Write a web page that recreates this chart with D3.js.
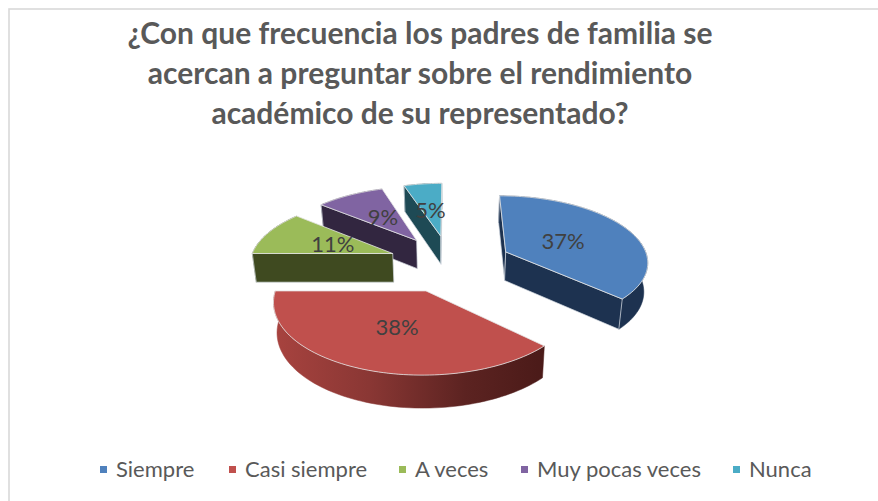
<!DOCTYPE html>
<meta charset="utf-8">
<style>
html, body { margin: 0; padding: 0; background: #fff; }
svg { display: block; }
text { font-family: Lato, sans-serif; }
</style>
<svg id="chart" width="878" height="501"></svg>
<script src="https://d3js.org/d3.v7.min.js"></script>
<script>
var categories = ["Siempre", "Casi siempre", "A veces", "Muy pocas veces", "Nunca"];
var percents = [37, 38, 11, 9, 5];
var titleLines = [
  "¿Con que frecuencia los padres de familia se",
  "acercan a preguntar sobre el rendimiento",
  "académico de su representado?"
];
var topColors = ["#4f81bd", "#c0504d", "#9bbb59", "#8064a2", "#4bacc6"];
var sideColors = ["#1d3250", "#7a2f2c", "#3f4a20", "#322640", "#1e4a55"];
var legendX = [100, 229, 399, 521, 733];
var labelShiftX = [-16, 9, 16, 8, 1];
var labelShiftY = [4, -8, 3, 5, 7];

var svg = d3.select("#chart"),
    width = 878,
    height = 501;

// pseudo 3d: the pie lies on a plane and gets a simple perspective
var cx = 450, cy = 263, R = 143, tilt = 0.46, persp = 0.126, depth = 29, explode = 62;

function project(X, Y, low) {
  var s = 1 / (1 + persp * Y / R),
      zs = low ? 0.98 : 1;
  return [cx + X * s * zs, cy - tilt * Y * s * zs + (low ? depth * s : 0)];
}

var slices = d3.pie().sort(null).value(function(d) { return d; })(percents);
slices.forEach(function(d, i) {
  var mid = (d.startAngle + d.endAngle) / 2;
  d.i = i;
  d.mid = mid;
  d.ox = explode * Math.sin(mid);
  d.oy = explode * Math.cos(mid);
});

function rim(d, a, low) {
  return project(d.ox + R * Math.sin(a), d.oy + R * Math.cos(a), low);
}

function rimPoints(d, low) {
  var n = Math.ceil((d.endAngle - d.startAngle) / 0.03);
  return d3.range(n + 1).map(function(k) {
    return rim(d, d.startAngle + (d.endAngle - d.startAngle) * k / n, low);
  });
}

var line = d3.line();
function closed(poly) { return line(poly) + "Z"; }

svg.append("rect").attr("width", width).attr("height", height).attr("fill", "#fff");
svg.append("rect")
  .attr("x", 9).attr("y", 9).attr("width", 920).attr("height", 540)
  .attr("fill", "none").attr("stroke", "#d9d9d9").attr("stroke-width", 1.6);

var grad = svg.append("defs").append("linearGradient")
  .attr("id", "redSide").attr("gradientUnits", "userSpaceOnUse")
  .attr("x1", 273).attr("x2", 547).attr("y1", 0).attr("y2", 0);
grad.append("stop").attr("offset", "0%").attr("stop-color", "#a8433f");
grad.append("stop").attr("offset", "35%").attr("stop-color", "#8a3734");
grad.append("stop").attr("offset", "70%").attr("stop-color", "#5c2321");
grad.append("stop").attr("offset", "100%").attr("stop-color", "#4a1a18");

// back to front
var order = slices.slice().sort(function(a, b) { return b.oy - a.oy; });

order.forEach(function(d) {
  var g = svg.append("g"),
      side = d.i === 1 ? "url(#redSide)" : sideColors[d.i],
      apexTop = project(d.ox, d.oy, false),
      apexLow = project(d.ox, d.oy, true),
      topArc = rimPoints(d, false),
      lowArc = rimPoints(d, true);

  // outer wall
  g.append("path")
    .attr("d", closed(topArc.concat(lowArc.slice().reverse())))
    .attr("fill", side)
    .attr("stroke", side).attr("stroke-width", 0.5);

  // cut faces, only the ones that look at the viewer (polygonArea is >0 counterclockwise on screen)
  var startFace = [apexTop, topArc[0], lowArc[0], apexLow],
      endFace = [apexTop, topArc[topArc.length - 1], lowArc[lowArc.length - 1], apexLow];
  if (d3.polygonArea(startFace) > 0) {
    g.append("path").attr("d", closed(startFace)).attr("fill", sideColors[d.i])
      .attr("stroke", "#d5dbe3").attr("stroke-width", 0.7);
  }
  if (d3.polygonArea(endFace) < 0) {
    g.append("path").attr("d", closed(endFace)).attr("fill", sideColors[d.i])
      .attr("stroke", "#d5dbe3").attr("stroke-width", 0.7);
  }

  g.append("path")
    .attr("d", closed([apexTop].concat(topArc)))
    .attr("fill", topColors[d.i])
    .attr("stroke", "#e4e4e4").attr("stroke-width", 0.8);
});

slices.forEach(function(d, i) {
  var p = project(d.ox + 0.6 * R * Math.sin(d.mid), d.oy + 0.6 * R * Math.cos(d.mid), false);
  svg.append("text")
    .attr("x", p[0] + labelShiftX[i]).attr("y", p[1] + labelShiftY[i])
    .attr("dy", "0.35em")
    .attr("text-anchor", "middle")
    .attr("font-size", 22)
    .attr("fill", "#404040")
    .text(percents[i] + "%");
});

svg.selectAll(".title").data(titleLines).enter().append("text")
  .attr("class", "title")
  .attr("x", 420)
  .attr("y", function(d, i) { return 44 + i * 40; })
  .attr("text-anchor", "middle")
  .attr("font-size", 30)
  .attr("font-weight", 700)
  .attr("fill", "#595959")
  .text(function(d) { return d; });

var legend = svg.selectAll(".legend").data(categories).enter().append("g")
  .attr("class", "legend")
  .attr("transform", function(d, i) { return "translate(" + legendX[i] + ",470)"; });

legend.append("rect")
  .attr("x", 0).attr("y", -4).attr("width", 7).attr("height", 7)
  .attr("fill", function(d, i) { return topColors[i]; });

legend.append("text")
  .attr("x", 16).attr("y", 7)
  .attr("font-size", 22)
  .attr("fill", "#595959")
  .text(function(d) { return d; });
</script>
